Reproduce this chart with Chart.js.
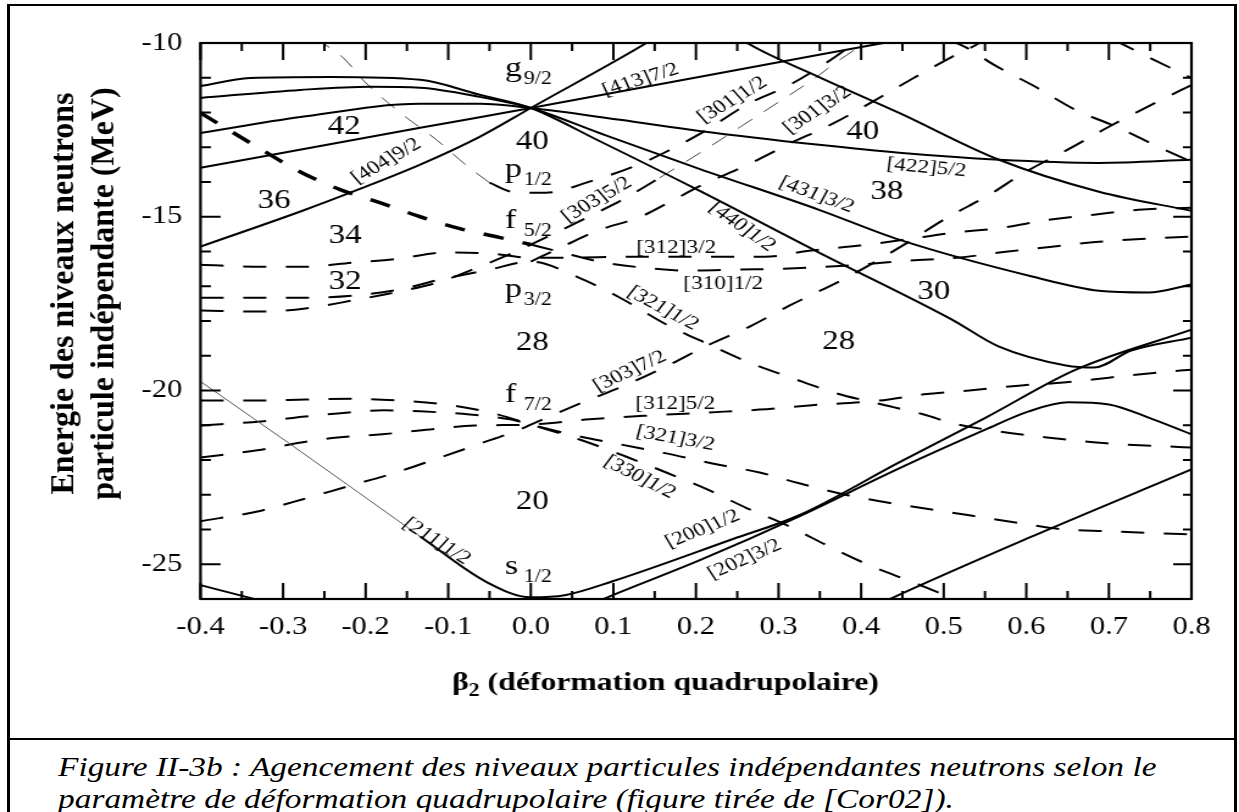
<!DOCTYPE html>
<html>
<head>
<meta charset="utf-8">
<script src="https://cdn.jsdelivr.net/npm/chart.js@4.4.0/dist/chart.umd.min.js"></script>
<style>
html,body{margin:0;padding:0;background:#fff;width:1239px;height:812px;overflow:hidden;}
#c{position:absolute;left:0;top:0;}
#frame{position:absolute;left:7px;top:4px;width:1230px;height:900px;box-sizing:border-box;border-style:solid;border-color:#000;border-width:2px 3px;}
#sep{position:absolute;left:7px;top:738px;width:1230px;height:2px;background:#000;}
#cap{position:absolute;left:58px;top:751px;font:italic 26.5px 'Liberation Serif';line-height:32px;white-space:nowrap;transform:scaleX(1.26);transform-origin:0 0;color:#000;}
</style>
</head>
<body>
<div id="frame"></div>
<div id="sep"></div>
<canvas id="c" width="1016" height="738" style="width:1239px;height:738px"></canvas>
<div id="cap">Figure II-3b : Agencement des niveaux particules indépendantes neutrons selon le<br>paramètre de déformation quadrupolaire (figure tirée de [Cor02]).</div>
<script>
// picture is wider than its fonts: canvas is drawn narrow and stretched
var S = 1239 / 1016;

// axes
var xTickValues = [-0.4, -0.3, -0.2, -0.1, 0.0, 0.1, 0.2, 0.3, 0.4, 0.5, 0.6, 0.7, 0.8];
var yTickValues = [-25, -20, -15, -10];

// positive parity levels (solid), [beta2, E MeV]
var g440 = [[-0.4,-11.24],[-0.34,-11.01],[-0.243,-10.98],[-0.134,-11.06],[-0.062,-11.49],[0,-11.87],[0.083,-12.82],[0.204,-14.25],[0.349,-16.03],[0.51,-17.96],[0.567,-18.74],[0.648,-19.28],[0.682,-19.34],[0.727,-18.85],[0.8,-18.48]];
var g431 = [[-0.4,-11.58],[-0.279,-11.35],[-0.195,-11.26],[-0.134,-11.29],[-0.062,-11.55],[0,-11.87],[0.083,-12.59],[0.204,-13.62],[0.349,-14.8],[0.446,-15.66],[0.607,-16.72],[0.688,-17.13],[0.748,-17.18],[0.8,-16.95]];
var g422 = [[-0.4,-12.59],[-0.279,-12.13],[-0.134,-11.75],[-0.062,-11.75],[0,-11.87],[0.108,-12.21],[0.204,-12.53],[0.349,-12.93],[0.446,-13.16],[0.567,-13.36],[0.688,-13.45],[0.8,-13.36]];
var g413 = [[-0.4,-13.59],[-0.134,-12.44],[0,-11.87],[0.349,-10.34],[0.446,-9.92]];
var g404 = [[-0.4,-15.86],[-0.279,-14.85],[-0.207,-14.2],[-0.134,-13.5],[-0.062,-12.7],[0,-11.87],[0.14,-10.0],[0.16,-9.7]];
var g420 = [[0.25,-9.8],[0.262,-10.0],[0.349,-10.98],[0.446,-12.01],[0.567,-13.36],[0.688,-14.28],[0.8,-14.83]];
var d211thin = [[-0.4,-19.74],[-0.279,-21.75],[-0.134,-24.2]];
var d211 = [[-0.134,-24.2],[-0.053,-25.52],[0,-25.95],[0.041,-25.89],[0.099,-25.49],[0.244,-24.28],[0.325,-23.59],[0.446,-22.07],[0.551,-20.78],[0.66,-19.4],[0.8,-18.25]];
var d202 = [[0.06,-26.3],[0.087,-26.01],[0.204,-24.89],[0.325,-23.62],[0.446,-22.24],[0.551,-21.12],[0.603,-20.6],[0.651,-20.34],[0.7,-20.4],[0.748,-20.78],[0.8,-21.26]];
var dLow = [[0.4,-26.4],[0.434,-26.01],[0.599,-24.28],[0.8,-22.27]];
var dCorner = [[-0.4,-25.6],[-0.333,-26.01],[-0.31,-26.15]];

// negative parity levels (dashed)
var n310thick = [[-0.4,-12.01],[-0.34,-12.87],[-0.279,-13.71],[-0.231,-14.22],[-0.182,-14.6],[-0.134,-15.0],[-0.086,-15.34],[-0.037,-15.6],[0,-15.8]];
var n310 = [[0,-15.8],[0.035,-16.01],[0.083,-16.29],[0.138,-16.47],[0.192,-16.55],[0.253,-16.52],[0.313,-16.49],[0.398,-16.38],[0.458,-16.26],[0.516,-16.18],[0.575,-16.01],[0.631,-15.86],[0.688,-15.72],[0.746,-15.63],[0.8,-15.57]];
var n312 = [[-0.4,-16.38],[-0.327,-16.44],[-0.273,-16.44],[-0.216,-16.32],[-0.161,-16.21],[-0.104,-16.03],[-0.05,-16.06],[0,-16.18],[0.047,-16.18],[0.114,-16.15],[0.228,-16.15],[0.283,-16.15],[0.337,-15.98],[0.398,-15.83],[0.452,-15.66],[0.512,-15.46],[0.57,-15.32],[0.627,-15.09],[0.682,-14.94],[0.736,-14.8],[0.8,-14.74]];
var n321 = [[-0.4,-17.33],[-0.327,-17.33],[-0.273,-17.33],[-0.216,-17.27],[-0.161,-17.1],[-0.11,-16.81],[-0.05,-16.52],[0,-16.29],[0.058,-16.75],[0.108,-17.33],[0.164,-18.1],[0.216,-18.68],[0.262,-19.17],[0.315,-19.63],[0.367,-20.06],[0.419,-20.37],[0.476,-20.69],[0.512,-20.95],[0.567,-21.18],[0.625,-21.35],[0.697,-21.52],[0.77,-21.61],[0.8,-21.64]];
var n303 = [[-0.4,-17.7],[-0.327,-17.73],[-0.273,-17.64],[-0.216,-17.41],[-0.161,-17.16],[-0.11,-16.87],[-0.056,-16.38],[-0.019,-16.01],[0,-15.8],[0.033,-15.43],[0.075,-14.94],[0.111,-14.51],[0.156,-13.88]];
var n303thin = [[0.156,-13.88],[0.209,-13.1],[0.254,-12.41],[0.3,-11.7],[0.343,-11.03],[0.37,-10.55],[0.404,-10.0],[0.42,-9.7]];
var n301b = [[0,-16.29],[0.041,-15.83],[0.081,-15.4],[0.133,-15.0],[0.164,-14.63],[0.208,-14.08],[0.262,-13.51],[0.313,-12.9],[0.365,-12.33],[0.413,-11.7],[0.462,-11.03],[0.51,-10.4],[0.543,-10.0],[0.56,-9.7]];
var n301thin = [[-0.261,-9.86],[-0.227,-10.43],[-0.201,-11.12],[-0.158,-12.01],[-0.114,-12.79],[-0.076,-13.56],[-0.05,-14.02]];
var n301a = [[-0.05,-14.02],[-0.023,-14.28],[0.018,-14.31],[0.071,-13.99],[0.129,-13.51],[0.164,-13.13],[0.213,-12.5],[0.261,-11.78],[0.313,-11.21],[0.359,-10.55],[0.392,-10.0],[0.41,-9.7]];
var nTopA = [[0.506,-9.91],[0.528,-10.14],[0.561,-10.63],[0.611,-11.26],[0.66,-11.93],[0.709,-12.41],[0.76,-12.99],[0.8,-13.42]];
var nTopB = [[0.706,-9.91],[0.75,-10.43],[0.8,-11.01]];
var f303 = [[-0.4,-23.76],[-0.331,-23.48],[-0.276,-23.13],[-0.222,-22.76],[-0.17,-22.41],[-0.116,-21.98],[-0.064,-21.55],[-0.013,-21.12],[0,-20.98],[0.063,-20.34],[0.116,-19.83],[0.166,-19.28],[0.216,-18.68],[0.265,-18.16],[0.313,-17.56],[0.385,-16.72],[0.446,-15.89],[0.504,-15.03],[0.555,-14.37],[0.597,-13.74],[0.654,-13.02],[0.7,-12.41],[0.758,-11.7],[0.8,-11.21]];
var f312 = [[-0.4,-21.93],[-0.331,-21.72],[-0.276,-21.49],[-0.234,-21.35],[-0.18,-21.26],[-0.122,-21.12],[-0.068,-21.01],[0,-20.98],[0.071,-20.83],[0.144,-20.72],[0.216,-20.63],[0.277,-20.55],[0.337,-20.43],[0.422,-20.29],[0.476,-20.11],[0.531,-20.0],[0.591,-19.86],[0.645,-19.77],[0.7,-19.63],[0.76,-19.48],[0.8,-19.4]];
var f321 = [[-0.4,-21.01],[-0.327,-20.89],[-0.273,-20.75],[-0.234,-20.66],[-0.178,-20.57],[-0.134,-20.6],[-0.074,-20.69],[-0.025,-20.83],[0,-20.98],[0.053,-21.29],[0.108,-21.55],[0.164,-21.81],[0.22,-22.1],[0.277,-22.36],[0.325,-22.67],[0.385,-23.02],[0.446,-23.28],[0.531,-23.59],[0.585,-23.79],[0.642,-23.99],[0.7,-24.05],[0.76,-24.11],[0.8,-24.14]];
var f330 = [[-0.4,-20.29],[-0.327,-20.29],[-0.273,-20.26],[-0.216,-20.24],[-0.158,-20.29],[-0.104,-20.4],[-0.05,-20.63],[0,-20.98],[0.059,-21.41],[0.115,-21.9],[0.164,-22.36],[0.213,-22.84],[0.262,-23.39],[0.313,-23.91],[0.363,-24.51],[0.413,-25.06],[0.466,-25.55],[0.512,-26.01],[0.55,-26.5]];

// texts
var orbitLabels = [
  ['[404]9/2', -0.175, -13.4, -30], ['[413]7/2', 0.133, -11.06, -17],
  ['[301]1/2', 0.244, -11.64, -31], ['[301]3/2', 0.347, -11.93, -33],
  ['[422]5/2', 0.479, -13.59, 5], ['[431]3/2', 0.346, -14.37, 20],
  ['[440]1/2', 0.256, -15.29, 35], ['[303]5/2', 0.080, -14.51, -30],
  ['[312]3/2', 0.176, -15.89, 0], ['[310]1/2', 0.233, -16.95, 0],
  ['[321]1/2', 0.160, -17.64, 28], ['[303]7/2', 0.120, -19.45, -25],
  ['[312]5/2', 0.175, -20.40, 0], ['[321]3/2', 0.175, -21.38, 10],
  ['[330]1/2', 0.132, -22.50, 27], ['[211]1/2', -0.114, -24.34, 32],
  ['[200]1/2', 0.208, -23.99, -22], ['[202]3/2', 0.259, -24.86, -24]
];
var shellLabels = [['g','9/2',-10.95],['p','1/2',-13.85],['f','5/2',-15.32],['p','3/2',-17.30],['f','7/2',-20.34],['s','1/2',-25.29]];
var gapLabels = [['40',0.002,-12.84],['28',0.002,-18.62],['20',0.002,-23.22],['42',-0.226,-12.41],['36',-0.311,-14.54],['34',-0.225,-15.55],['32',-0.225,-16.87],['40',0.402,-12.56],['38',0.431,-14.28],['30',0.488,-17.16],['28',0.373,-18.59]];

function pts(a){ return a.map(function(p){ return {x:p[0], y:p[1]}; }); }
function solid(a){ return {data:pts(a), borderColor:'#000', borderWidth:2, pointRadius:0, cubicInterpolationMode:'monotone', clip:0}; }
function thin(a){ return {data:pts(a), borderColor:'#555', borderWidth:1, pointRadius:0, cubicInterpolationMode:'monotone', clip:0}; }
function dash(a){ return {data:pts(a), borderColor:'#000', borderWidth:2, borderDash:[19,16], pointRadius:0, cubicInterpolationMode:'monotone', clip:0}; }
function thinDash(a){ return {data:pts(a), borderColor:'#444', borderWidth:1, borderDash:[15,12], pointRadius:0, cubicInterpolationMode:'monotone', clip:0}; }
function thickDash(a){ return {data:pts(a), borderColor:'#000', borderWidth:3.5, borderDash:[17,16], pointRadius:0, cubicInterpolationMode:'monotone', clip:0}; }

var datasets = [
  solid(g440), solid(g431), solid(g422), solid(g413), solid(g404), solid(g420),
  thin(d211thin), solid(d211), solid(d202), solid(dLow), solid(dCorner),
  thickDash(n310thick), dash(n310), dash(n312), dash(n321), dash(n303), thinDash(n303thin),
  dash(n301b), thinDash(n301thin), dash(n301a), dash(nTopA), dash(nTopB),
  dash(f303), dash(f312), dash(f321), dash(f330)
];

function pageAngle(deg){ return Math.atan(S * Math.tan(deg * Math.PI / 180)); }

var decor = {
  id: 'decor',
  afterDatasetsDraw: function(chart){
    var ctx = chart.ctx, x = chart.scales.x, y = chart.scales.y;
    ctx.save();
    ctx.fillStyle = '#000';
    ctx.textAlign = 'center'; ctx.textBaseline = 'middle';
    ctx.font = '19px "Liberation Serif"';
    orbitLabels.forEach(function(l){
      ctx.save();
      ctx.translate(x.getPixelForValue(l[1]), y.getPixelForValue(l[2]));
      ctx.rotate(pageAngle(l[3]));
      ctx.fillText(l[0], 0, 0);
      ctx.restore();
    });
    ctx.font = '27px "Liberation Serif"';
    gapLabels.forEach(function(l){
      ctx.fillText(l[0], x.getPixelForValue(l[1]), y.getPixelForValue(l[2]));
    });
    ctx.textAlign = 'left'; ctx.textBaseline = 'alphabetic';
    shellLabels.forEach(function(l){
      var by = y.getPixelForValue(l[2]);
      ctx.font = '28px "Liberation Serif"';
      ctx.fillText(l[0], x.getPixelForValue(-0.0314), by);
      ctx.font = '18px "Liberation Serif"';
      ctx.fillText(l[1], x.getPixelForValue(-0.0085), by + 8);
    });
    ctx.restore();
  },
  afterDraw: function(chart){
    var ctx = chart.ctx, a = chart.chartArea, x = chart.scales.x, y = chart.scales.y;
    ctx.save();
    ctx.strokeStyle = '#000'; ctx.lineWidth = 2.2;
    ctx.strokeRect(a.left, a.top, a.right - a.left, a.bottom - a.top);
    ctx.lineWidth = 2;
    ctx.beginPath();
    for (var i = 0; i <= 24; i++) {
      var v = -0.4 + i * 0.05, px = x.getPixelForValue(v), big = (i % 2 === 0);
      ctx.moveTo(px, a.bottom); ctx.lineTo(px, a.bottom - (big ? 16 : 8));
      ctx.moveTo(px, a.top); ctx.lineTo(px, a.top + (big ? 17 : 8));
    }
    for (var e = -26; e <= -10; e++) {
      var py = y.getPixelForValue(e), major = (e % 5 === 0);
      ctx.moveTo(a.left, py); ctx.lineTo(a.left + (major ? 16.5 : 8.5), py);
      ctx.moveTo(a.right, py); ctx.lineTo(a.right - (major ? 15 : 7), py);
    }
    ctx.stroke();

    // x title
    ctx.fillStyle = '#000';
    ctx.textAlign = 'left'; ctx.textBaseline = 'alphabetic';
    var tx = 452 / S, ty = 690;
    ctx.font = 'bold 26px "Liberation Serif"';
    ctx.fillText('\u03b2', tx, ty);
    tx += ctx.measureText('\u03b2').width;
    ctx.font = 'bold 18px "Liberation Serif"';
    ctx.fillText('2', tx, ty + 6);
    tx += ctx.measureText('2').width;
    ctx.font = 'bold 26px "Liberation Serif"';
    ctx.fillText(' (d\u00e9formation quadrupolaire)', tx, ty);

    // y title, two lines
    var lines = [['Energie des niveaux neutrons', 73], ['particule ind\u00e9pendante (MeV)', 113]];
    ctx.font = 'bold 32px "Liberation Serif"';
    ctx.textAlign = 'center';
    lines.forEach(function(l){
      ctx.save();
      ctx.translate(l[1] / S, 293.5);
      ctx.scale(1 / S, 1);
      ctx.rotate(-Math.PI / 2);
      ctx.fillText(l[0], 0, 0);
      ctx.restore();
    });
    ctx.restore();
  }
};

new Chart(document.getElementById('c'), {
  type: 'line',
  data: { datasets: datasets },
  options: {
    responsive: false,
    animation: false,
    events: [],
    layout: { padding: { top: 43, right: 39, left: 0, bottom: 0 } },
    plugins: { legend: { display: false }, tooltip: { enabled: false } },
    scales: {
      x: {
        type: 'linear', min: -0.4, max: 0.8,
        grid: { display: false }, border: { display: false },
        afterBuildTicks: function(s){ s.ticks = xTickValues.map(function(v){ return {value: v}; }); },
        afterFit: function(s){ s.height = 139; },
        ticks: { color: '#000', padding: 5, maxRotation: 0, autoSkip: false,
          font: { family: 'Liberation Serif', size: 25 },
          callback: function(v){ return Number(v).toFixed(1); } }
      },
      y: {
        type: 'linear', min: -26, max: -10,
        grid: { display: false }, border: { display: false },
        afterBuildTicks: function(s){ s.ticks = yTickValues.map(function(v){ return {value: v}; }); },
        afterFit: function(s){ s.width = 164.4; },
        ticks: { color: '#000', padding: 7, autoSkip: false,
          font: { family: 'Liberation Serif', size: 25 },
          callback: function(v){ return String(v); } }
      }
    }
  },
  plugins: [decor]
});
</script>
</body>
</html>
